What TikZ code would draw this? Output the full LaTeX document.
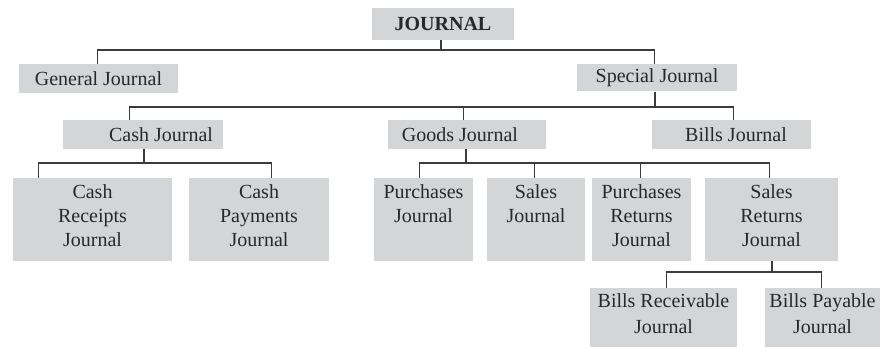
\documentclass[tikz,border=0pt]{standalone}
\usepackage{fontspec}
\setmainfont{Liberation Serif}
\usetikzlibrary{calc}
\definecolor{boxfill}{RGB}{212,213,215}
\definecolor{linec}{RGB}{60,60,60}
\definecolor{textc}{RGB}{40,40,40}
\tikzset{
  box/.style={fill=boxfill, draw=none, inner sep=0pt, align=center, text=textc,
    font=\fontsize{15pt}{18pt}\selectfont},
  bold/.style={font=\fontsize{15pt}{18pt}\selectfont\bfseries},
  wide/.style={font=\fontsize{15pt}{19.5pt}\selectfont},
  txt/.style={inner sep=0pt, align=center, text=textc, font=\fontsize{15pt}{18pt}\selectfont},
  conn/.style={draw=linec, line width=1pt}
}
\begin{document}
\begin{tikzpicture}[x=0.75pt,y=-0.75pt]
\useasboundingbox (0,0) rectangle (882,348);

% level 0 and 1
\node[box, bold, minimum width=142*0.75pt, minimum height=32*0.75pt] (journal) at (443,24) {JOURNAL};
\node[box, minimum width=159*0.75pt, minimum height=29*0.75pt] (general) at (98.5,78.5) {General Journal};
\node[box, minimum width=160*0.75pt, minimum height=27*0.75pt] (special) at (657,78) {Special Journal};

% level 2
\node[box, minimum width=160*0.75pt, minimum height=29*0.75pt] (cash) at (143,134.5) {};
\node[txt] (cash-t) at (161,134.5) {Cash Journal};
\node[box, minimum width=158*0.75pt, minimum height=29*0.75pt] (goods) at (467,134.5) {};
\node[txt] (goods-t) at (460,134.5) {Goods Journal};
\node[box, minimum width=159*0.75pt, minimum height=29*0.75pt] (bills) at (731.5,134.5) {};
\node[txt] (bills-t) at (736,134.5) {Bills Journal};

% level 3
\node[box, minimum width=159*0.75pt, minimum height=83*0.75pt] (cr) at (92.5,219.5) {Cash\\Receipts\\Journal\strut};
\node[box, minimum width=140*0.75pt, minimum height=83*0.75pt] (cp) at (259,219.5) {Cash\\Payments\\Journal\strut};
\node[box, minimum width=99*0.75pt, minimum height=83*0.75pt] (pj) at (423.5,219.5) {Purchases\\Journal\\\strut};
\node[box, minimum width=98*0.75pt, minimum height=83*0.75pt] (sj) at (536,219.5) {Sales\\Journal\\\strut};
\node[box, minimum width=99*0.75pt, minimum height=83*0.75pt] (prj) at (641.5,219.5) {Purchases\\Returns\\Journal\strut};
\node[box, minimum width=133*0.75pt, minimum height=83*0.75pt] (srj) at (771.5,219.5) {Sales\\Returns\\Journal\strut};

% level 4
\node[box, wide, minimum width=147*0.75pt, minimum height=59*0.75pt] (brj) at (663.5,317.5) {Bills Receivable\\Journal\strut};
\node[box, wide, minimum width=115*0.75pt, minimum height=59*0.75pt] (bpj) at (822.5,317.5) {Bills Payable\\Journal\strut};

% connectors
\coordinate (b1) at (441,50);
\draw[conn] (journal.south -| b1) -- (b1);
\draw[conn] ($(general.north west)+(79,0)$) |- (b1) -| ($(special.north west)+(78,0)$);

\coordinate (b2) at (655,107);
\draw[conn] (special.south -| b2) -- (b2);
\draw[conn] ($(cash.north west)+(67,0)$) |- (b2) -| ($(bills.north west)+(82,0)$);
\draw[conn] ($(goods.north west)+(76,0)$) |- (b2);

\coordinate (b3) at (144,163);
\draw[conn] (cash.south -| b3) -- (b3);
\draw[conn] ($(cr.north west)+(26,0)$) |- (b3) -| ($(cp.north west)+(83,0)$);

\coordinate (b4) at (466,163);
\draw[conn] (goods.south -| b4) -- (b4);
\draw[conn] ($(pj.north west)+(46,0)$) |- (b4) -| ($(srj.north west)+(65,0)$);
\draw[conn] ($(sj.north west)+(48,0)$) |- (b4);
\draw[conn] ($(prj.north west)+(49,0)$) |- (b4);

\coordinate (b5) at (772,272);
\draw[conn] (srj.south -| b5) -- (b5);
\draw[conn] ($(brj.north west)+(77,0)$) |- (b5) -| ($(bpj.north west)+(57,0)$);
\end{tikzpicture}
\end{document}
